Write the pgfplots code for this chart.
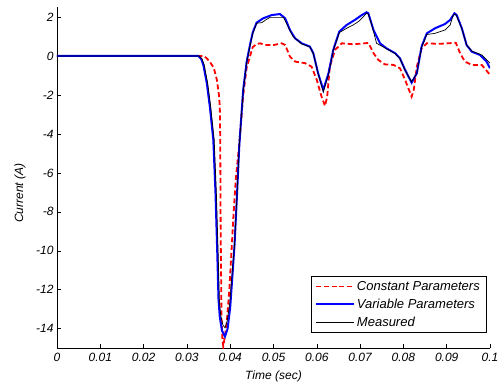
\documentclass[border=0pt]{standalone}
\usepackage{pgfplots}
\pgfplotsset{compat=1.18}
\usepackage{fontspec}
\setmainfont{Liberation Sans}
\begin{document}
\begin{tikzpicture}
\begin{axis}[
  name=ax,
  scale only axis,
  width=433pt, height=341pt,
  xmin=0, xmax=0.1, ymin=-15, ymax=2.5,
  axis lines=left,
  axis line style={-, line width=0.6pt},
  tick align=inside,
  major tick length=4pt,
  tick style={black, line width=0.6pt},
  font=\fontsize{12}{14}\selectfont\itshape,
  /pgf/number format/assume math mode=true,
  xtick={0,0.01,0.02,0.03,0.04,0.05,0.06,0.07,0.08,0.09,0.1},
  xticklabels={0,0.01,0.02,0.03,0.04,0.05,0.06,0.07,0.08,0.09,0.1},
  ytick={-14,-12,-10,-8,-6,-4,-2,0,2},
  yticklabels={-14,-12,-10,-8,-6,-4,-2,0,2},
  xticklabel style={yshift=-1pt},
  xlabel={Time (sec)},
  ylabel={Current (A)},
  xlabel style={at={(axis description cs:0.5,0)}, anchor=center, yshift=-28.5pt},
  ylabel style={at={(axis description cs:-0.0855,0.455)}, anchor=center, rotate=0},
  legend style={at={(rel axis cs:0.991,0.045)}, anchor=south east, draw=black, line width=0.6pt,
    font=\fontsize{13}{15}\selectfont\itshape, inner xsep=4pt, inner ysep=3pt, row sep=3pt},
  legend cell align=left,
  legend image code/.code={\draw[#1] (0pt,0pt) -- (38pt,0pt);},
]
\addplot[red, line width=1.8pt, dash pattern=on 5pt off 2.8pt] coordinates {
(0,0) (0.0338,0) (0.0345,-0.1) (0.0353,-0.3) (0.0362,-0.6) (0.0369,-1.2) (0.0374,-2.0)
(0.0376,-2.6) (0.0377,-4.3) (0.0378,-9) (0.0380,-13.5) (0.0382,-14.5) (0.0384,-14.9)
(0.0387,-14.5) (0.0392,-13.7) (0.0398,-12.0) (0.0403,-10) (0.0407,-8.4) (0.0413,-6.3)
(0.0421,-4.5) (0.0430,-2.0) (0.0438,-0.6) (0.0446,0.0) (0.0452,0.45) (0.0460,0.6)
(0.0469,0.65) (0.0480,0.56) (0.0500,0.56) (0.0519,0.65) (0.0527,0.56) (0.0538,-0.03)
(0.0550,-0.29) (0.0573,-0.37) (0.0588,-0.55) (0.0600,-1.23) (0.0611,-2.09) (0.0619,-2.56)
(0.0624,-2.09) (0.0630,-0.55) (0.0642,0.31) (0.0658,0.65) (0.0684,0.6) (0.0711,0.65)
(0.0719,0.67) (0.0731,0.14) (0.0742,-0.2) (0.0757,-0.43) (0.0777,-0.46) (0.0792,-0.63)
(0.0804,-1.23) (0.0819,-2.09) (0.0824,-1.74) (0.0831,-0.55) (0.0842,0.39) (0.0854,0.65)
(0.0881,0.62) (0.0904,0.65) (0.0921,0.68) (0.0931,0.14) (0.0942,-0.29) (0.0958,-0.46)
(0.0981,-0.46) (0.1,-0.97)
};
\addlegendentry{Constant Parameters}
\addplot[blue, line width=2pt] coordinates {
(0,0) (0.0326,0) (0.0333,-0.15) (0.0338,-0.46) (0.0346,-1.4) (0.0353,-2.6) (0.0361,-4.3)
(0.0366,-7) (0.0370,-10) (0.0373,-12.5) (0.0376,-13.4) (0.0381,-14.1) (0.0388,-14.4)
(0.0394,-14.0) (0.0400,-12.9) (0.0406,-11.0) (0.0410,-9.7) (0.0416,-7.0) (0.0421,-4.6)
(0.0430,-1.74) (0.0438,-0.3) (0.0446,0.6) (0.0452,1.2) (0.0461,1.71) (0.0476,1.93)
(0.0496,2.1) (0.0515,2.15) (0.0527,1.93) (0.0538,1.33) (0.0550,0.9) (0.0565,0.65)
(0.0584,0.48) (0.0592,0.14) (0.0603,-0.89) (0.0615,-1.74) (0.0627,-0.89) (0.0638,0.31)
(0.0652,1.25) (0.0669,1.59) (0.0688,1.85) (0.0704,2.1) (0.0715,2.24) (0.0719,2.19)
(0.0731,1.33) (0.0746,0.65) (0.0761,0.39) (0.0781,0.14) (0.0792,-0.12) (0.0804,-0.72)
(0.0819,-1.37) (0.0831,-0.89) (0.0842,0.48) (0.0854,1.16) (0.0873,1.42) (0.0896,1.64)
(0.0908,1.85) (0.0918,2.19) (0.0923,2.1) (0.0935,1.42) (0.0946,0.56) (0.0958,0.22)
(0.0977,0.05) (0.0992,-0.29) (0.1,-0.63)
};
\addlegendentry{Variable Parameters}
\addplot[black, line width=0.7pt] coordinates {
(0,0) (0.0328,0) (0.0335,-0.15) (0.0340,-0.46) (0.0348,-1.4) (0.0355,-2.6) (0.0363,-4.3)
(0.0368,-7) (0.0372,-10) (0.0375,-12.5) (0.0378,-13.3) (0.0383,-13.8) (0.0388,-13.95)
(0.0393,-13.6) (0.0399,-12.7) (0.0405,-11.0) (0.0410,-9.7) (0.0416,-7.0) (0.0421,-4.6)
(0.0430,-1.8) (0.0438,-0.35) (0.0446,0.55) (0.0452,1.15) (0.0461,1.68) (0.0473,1.71)
(0.0484,1.88) (0.0492,1.98) (0.0523,1.98) (0.0534,1.5) (0.0545,1.0) (0.0565,0.62)
(0.0584,0.46) (0.0592,0.12) (0.0603,-0.9) (0.0615,-1.85) (0.0627,-0.95) (0.0638,0.28)
(0.0652,1.2) (0.0669,1.42) (0.0684,1.59) (0.0696,1.76) (0.0707,2.0) (0.0715,2.2)
(0.0719,2.15) (0.0727,1.59) (0.0738,0.65) (0.0761,0.37) (0.0781,0.12) (0.0792,-0.14)
(0.0804,-0.74) (0.0819,-1.33) (0.0831,-0.9) (0.0842,0.45) (0.0854,1.1) (0.0873,1.16)
(0.0896,1.33) (0.0908,1.59) (0.0915,2.1) (0.0919,2.15) (0.0923,2.05) (0.0935,1.4)
(0.0946,0.56) (0.0958,0.25) (0.0981,0.05) (0.1,-0.37)
};
\addlegendentry{Measured}
\end{axis}
\pgfresetboundingbox
\path ([shift={(-57pt,-36.5pt)}]ax.south west) rectangle ([shift={(11pt,7.25pt)}]ax.north east);
\end{tikzpicture}
\end{document}
